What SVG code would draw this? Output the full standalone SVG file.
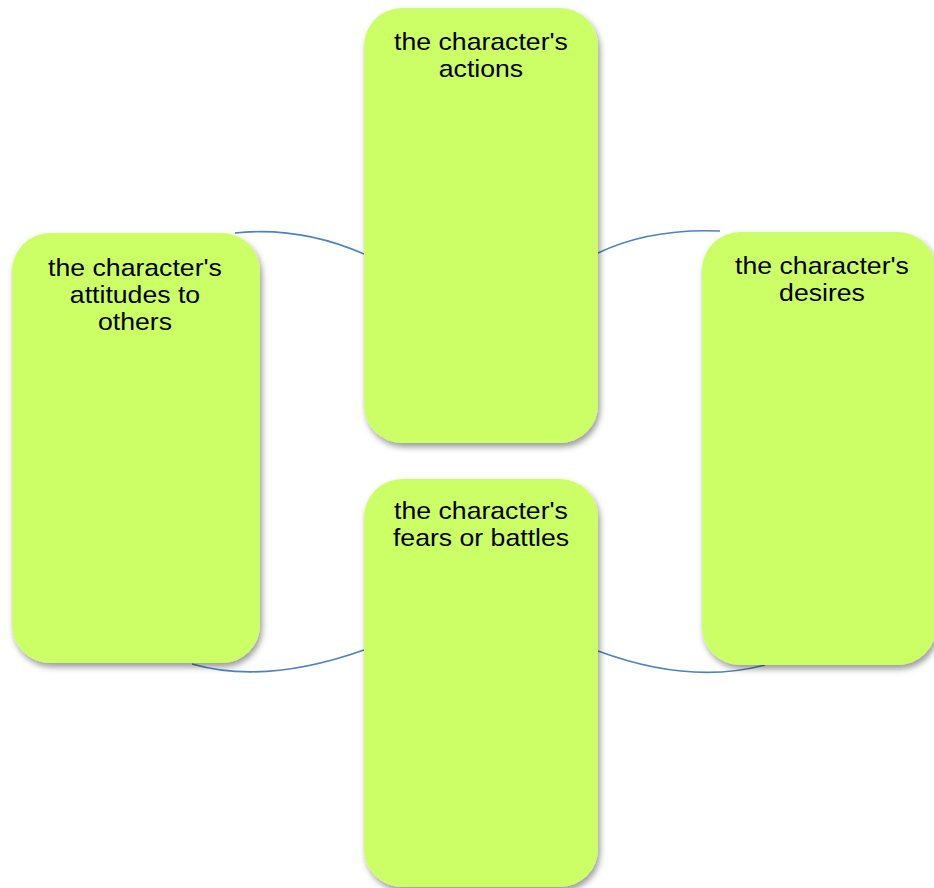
<svg xmlns="http://www.w3.org/2000/svg" width="934" height="888" viewBox="0 0 934 888">
<style>
.box{fill:#CCFF66;filter:url(#sh)}
.lbl{font-family:"Liberation Sans",Arial,sans-serif;font-size:24px;fill:#000;text-anchor:middle}
.con{fill:none;stroke:#4F81BD;stroke-width:1.6}
</style>
<defs>
<filter id="sh" x="-10%" y="-10%" width="130%" height="130%">
<feDropShadow dx="2" dy="4" stdDeviation="3" flood-color="#000" flood-opacity="0.4"/>
</filter>
</defs>
<rect width="934" height="888" fill="#fff"/>
<g id="connectors">
<path class="con" d="M235,233 Q300,226 364,254"/>
<path class="con" d="M598,253 Q650,228 720,231"/>
<path class="con" d="M192,664 Q265,685 364,650"/>
<path class="con" d="M598,651 Q690,685 765,665"/>
</g>
<g id="actions">
<rect class="box" x="364" y="8" width="234" height="435" rx="38"/>
<g transform="translate(481 0) scale(1.11 1)">
<text class="lbl" x="0" y="50">the character's</text>
<text class="lbl" x="0" y="77">actions</text>
</g>
</g>
<g id="attitudes">
<rect class="box" x="12" y="233" width="248" height="430" rx="38"/>
<g transform="translate(135 0) scale(1.11 1)">
<text class="lbl" x="0" y="276">the character's</text>
<text class="lbl" x="0" y="303">attitudes to</text>
<text class="lbl" x="0" y="330">others</text>
</g>
</g>
<g id="desires">
<rect class="box" x="702" y="232" width="234" height="433" rx="38"/>
<g transform="translate(822 0) scale(1.11 1)">
<text class="lbl" x="0" y="274">the character's</text>
<text class="lbl" x="0" y="301">desires</text>
</g>
</g>
<g id="fears">
<rect class="box" x="364" y="479" width="234" height="408" rx="38"/>
<g transform="translate(481 0) scale(1.11 1)">
<text class="lbl" x="0" y="519">the character's</text>
<text class="lbl" x="0" y="546">fears or battles</text>
</g>
</g>
</svg>
